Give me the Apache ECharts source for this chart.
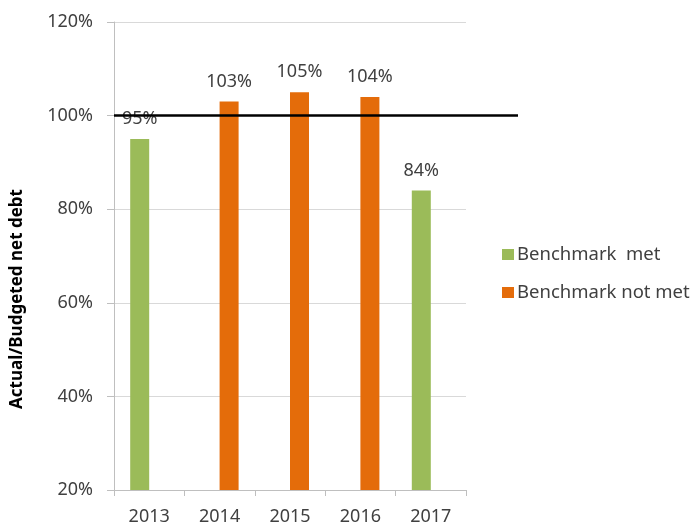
<!DOCTYPE html>
<html><head><meta charset="utf-8">
<script src="https://cdn.jsdelivr.net/npm/echarts@6/dist/echarts.min.js"></script>
<style>html,body{margin:0;padding:0;background:#fff}#c{width:693px;height:529px}</style>
</head><body><div id="c"></div>
<script>
const years = ['2013','2014','2015','2016','2017'];
const metValues = [95, null, null, null, 84];
const notMetValues = [null, 103, 105, 104, null];
const benchmarkLevel = 100;
const yTicks = [20, 40, 60, 80, 100, 120];

const chart = echarts.init(document.getElementById('c'));
const font = '"Noto Sans", "Open Sans", sans-serif';
const labelCfg = {show:true, position:'top', distance:11, formatter: p => p.value + '%', color:'#404040', fontSize:18, fontFamily:font};
chart.setOption({
  animation:false,
  grid:[
    {left:114, right:227, top:22, bottom:39, containLabel:false},
    {left:114, right:175, top:22, bottom:39, containLabel:false}
  ],
  legend:{
    orient:'vertical', left:497, top:240, itemWidth:12, itemHeight:11, itemGap:19,
    icon:'rect',
    textStyle:{color:'#404040', fontSize:18.5, fontFamily:font, padding:[0,0,0,-2]},
    data:['Benchmark  met','Benchmark not met']
  },
  xAxis:[
    {type:'category', data:years, gridIndex:0,
     axisLine:{lineStyle:{color:'#bfbfbf', width:1}},
     axisTick:{show:true, alignWithLabel:false, length:6, lineStyle:{color:'#bfbfbf'}},
     axisLabel:{color:'#404040', fontSize:18, fontFamily:font, margin:18}},
    {type:'value', gridIndex:1, min:0, max:1, show:false}
  ],
  yAxis:[
    {type:'value', gridIndex:0, min:yTicks[0], max:yTicks[yTicks.length-1], interval:20,
     name:'Actual/Budgeted net debt', nameLocation:'middle', nameGap:88,
     nameTextStyle:{fontWeight:'bold', color:'#000', fontSize:17, fontFamily:font, padding:[0,0,0,-86]},
     axisLine:{show:true, lineStyle:{color:'#bfbfbf'}},
     axisTick:{show:true, length:7, lineStyle:{color:'#bfbfbf'}},
     splitLine:{show:true, lineStyle:{color:'#d9d9d9'}},
     axisLabel:{formatter:'{value}%', color:'#404040', fontSize:18, fontFamily:font, margin:21}},
    {type:'value', gridIndex:1, min:yTicks[0], max:yTicks[yTicks.length-1], show:false}
  ],
  series:[
    {name:'Benchmark  met', type:'bar', data:metValues, xAxisIndex:0, yAxisIndex:0,
     barWidth:19, barGap:'0%', itemStyle:{color:'#9bbb59'}, label:labelCfg},
    {name:'Benchmark not met', type:'bar', data:notMetValues, xAxisIndex:0, yAxisIndex:0,
     barWidth:19, barGap:'0%', itemStyle:{color:'#e46c0a'}, label:labelCfg},
    {name:'line', type:'line', xAxisIndex:1, yAxisIndex:1, symbol:'none', z:5,
     data:[[0,benchmarkLevel],[1,benchmarkLevel]], lineStyle:{color:'#000', width:2.5}}
  ]
});
</script></body></html>
